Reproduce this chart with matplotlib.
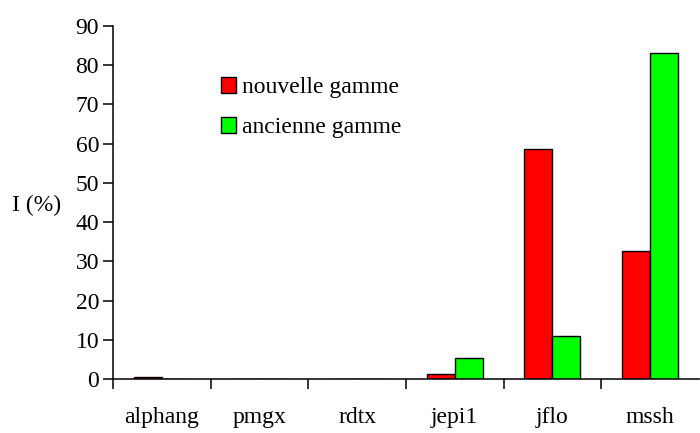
import matplotlib
matplotlib.use("Agg")
import matplotlib.pyplot as plt
import numpy as np

# donnees
categories = ["alphang", "pmgx", "rdtx", "jepi1", "jflo", "mssh"]
nouvelle = [0.4, 0, 0, 1.2, 58.7, 32.6]
ancienne = [0, 0, 0, 5.4, 11.0, 83.0]
series_labels = ["nouvelle gamme", "ancienne gamme"]

plt.rcParams['font.family'] = ['Liberation Serif', 'DejaVu Serif']
fs = 17

fig = plt.figure(figsize=(7, 4.33), dpi=100)
ax = fig.add_axes([0.1614, 0.1247, 0.837, 0.8153])

x = np.arange(len(categories))
w = 0.286
ax.bar(x - w/2, nouvelle, w, color="#ff0000", edgecolor="black", linewidth=1.0, label=series_labels[0])
ax.bar(x + w/2, ancienne, w, color="#00ff00", edgecolor="black", linewidth=1.0, label=series_labels[1])

ax.set_xlim(-0.5, len(categories) - 0.5)
ax.set_ylim(0, 90)
ax.set_yticks(np.arange(0, 91, 10))

# ticks aux limites des categories, etiquettes au centre
ax.set_xticks(np.arange(-0.5, len(categories) - 0.5, 1))
ax.set_xticklabels([])
ax.set_xticks(x, minor=True)
ax.set_xticklabels(categories, minor=True)
ax.tick_params(axis='x', which='minor', length=0, pad=20, labelsize=fs)
ax.tick_params(axis='x', which='major', length=7, width=1.1, direction='out')
ax.tick_params(axis='y', length=7, width=1.1, direction='out', labelsize=fs, pad=3)

for s in ["top", "right"]:
    ax.spines[s].set_visible(False)
for s in ["left", "bottom"]:
    ax.spines[s].set_linewidth(1.1)

ax.set_ylabel("I (%)", rotation=0, fontsize=fs)
ax.yaxis.set_label_coords(-0.13, 0.493)
ax.yaxis.label.set_verticalalignment('center')

ax.legend(loc='upper left', bbox_to_anchor=(0.184, 0.855), frameon=False, fontsize=fs,
          handlelength=0.63, handleheight=0.63, handletextpad=0.25, labelspacing=0.8,
          borderaxespad=0, borderpad=0)

fig.savefig("out.png", dpi=100)
